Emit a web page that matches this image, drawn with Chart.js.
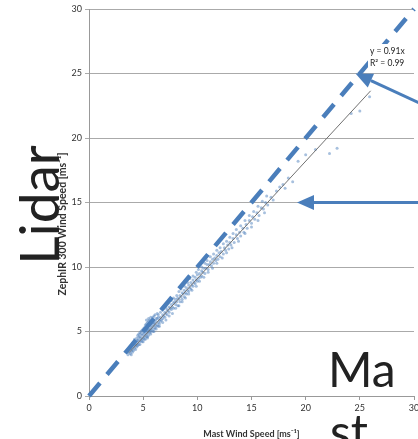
<!DOCTYPE html>
<html>
<head>
<meta charset="utf-8">
<script src="https://cdn.jsdelivr.net/npm/chart.js@4"></script>
<style>
html,body{margin:0;padding:0;background:#fff;overflow:hidden;}
canvas{display:block;}
</style>
</head>
<body>
<canvas id="c" width="418" height="439"></canvas>
<script>
// ---- data: [mast speed, lidar speed] ----
const lowSamples = [[3.5,3.4],[3.6,3.2],[3.6,3.6],[3.7,3.4],[3.8,3.7],[3.8,3.3],[3.9,3.5],[3.9,3.9],[4.0,3.6],[4.0,4.1],[4.0,3.4],[4.1,3.8],[4.1,4.2],[4.2,3.7],[4.2,4.0],[4.2,4.4],[4.3,3.9],[4.3,4.2],[4.3,3.6],[4.4,4.5],[4.4,4.0],[4.4,3.8],[4.5,4.3],[4.5,4.1],[4.5,4.7],[4.6,4.0],[4.6,4.4],[4.6,4.8],[4.7,4.2],[4.7,4.6],[4.7,4.9],[4.8,4.3],[4.8,4.5],[4.8,5.0],[4.9,4.4],[4.9,4.7],[4.9,5.1],[5.0,4.5],[5.0,4.8],[5.0,5.2],[5.0,4.2],
[5.1,4.6],[5.1,4.9],[5.1,5.3],[5.2,4.4],[5.2,4.7],[5.2,5.0],[5.2,5.5],[5.3,4.8],[5.3,5.1],[5.3,5.6],[5.4,4.6],[5.4,4.9],[5.4,5.3],[5.4,5.7],[5.5,5.0],[5.5,5.2],[5.5,4.7],[5.5,5.8],[5.6,5.1],[5.6,5.4],[5.6,4.9],[5.6,5.9],[5.7,5.2],[5.7,5.5],[5.7,5.0],[5.8,5.3],[5.8,5.6],[5.8,5.1],[5.9,5.4],[5.9,5.7],[5.9,5.0],[6.0,5.5],[6.0,5.2],[6.0,5.9],[6.0,6.2],[6.1,5.3],[6.1,5.6],[6.2,5.4],[6.2,5.8],[6.3,5.5],[6.3,6.0],[6.3,6.4],[6.4,5.7],[6.4,5.4],[6.5,5.9],[6.5,5.6],
[4.4,4.3],[4.6,4.6],[4.8,4.8],[5.0,5.0],[5.1,5.1],[5.3,5.3],[5.4,5.1],[5.6,5.6],[5.8,5.8],[6.0,5.7],[6.2,6.0],[6.4,6.1],[4.9,4.2],[5.1,4.4],[5.3,4.6],[4.5,3.9],[4.7,4.0],[4.1,3.5],[3.9,3.2],
[5.3,5.9],[5.5,6.0],[5.7,6.1],[5.9,6.1],[6.1,6.3],[6.4,6.3],[5.4,4.5],[5.7,4.8],[6.0,5.0],[6.2,5.2],[6.5,5.4]];
const midSamples = [[6.6,6.1],[6.6,5.8],[6.7,5.9],[6.8,6.3],[6.8,6.0],[6.9,6.2],[7.0,6.5],[7.0,6.1],[7.1,6.4],[7.2,6.7],[7.2,6.3],[7.3,6.6],[7.4,6.9],[7.4,6.5],[7.5,6.8],[7.6,7.1],[7.6,6.7],[7.7,6.9],[7.8,7.2],[7.8,6.8],[7.9,7.3],[8.0,7.1],[8.0,7.5],[8.1,7.3],[8.2,7.6],[8.2,7.0],[8.3,7.5],[8.4,7.8],[8.4,7.3],[8.5,7.7],[8.6,8.0],[8.6,7.5],[8.7,7.9],[8.8,8.2],[8.8,7.7],[8.9,8.0],
[9.0,8.4],[9.0,7.9],[9.1,8.2],[9.2,8.6],[9.2,8.1],[9.3,8.4],[9.4,8.8],[9.4,8.3],[9.5,8.6],[9.6,9.0],[9.6,8.5],[9.7,8.8],[9.8,9.2],[9.8,8.7],[9.9,9.0],[10.0,9.4],[10.0,8.9],[10.1,9.1],[10.2,9.5],[10.3,9.2],[10.4,9.7],[10.4,9.3],[10.5,9.6],[10.6,9.9],[10.7,9.5],[10.8,9.9],[10.9,10.2],[11.0,9.8],[11.1,10.2],[11.2,10.4],[11.3,10.1],[11.4,10.6],[11.5,10.3],[11.6,10.7],[11.7,10.5],[11.8,10.9],[11.9,10.6],[12.0,11.1],[12.1,10.8],[12.2,11.2],[12.4,11.0],[12.5,11.5],[12.6,11.3],[12.8,11.7],[12.9,11.4],[13.0,11.9],
[6.6,6.5],[6.9,6.8],[7.1,6.9],[7.3,7.2],[7.6,7.4],[7.8,7.6],[8.1,7.8],[8.3,8.1],[8.5,8.3],[8.8,8.5],[9.1,8.8],[9.3,9.1],[9.6,9.3],[9.9,9.6],[10.1,9.8],[10.4,10.0],[10.7,10.3],[10.9,10.5],[11.2,10.8],[11.5,11.0],[11.8,11.3],[12.1,11.5],[12.4,11.8],[12.7,12.0],
[6.8,5.7],[7.1,5.9],[7.4,6.2],[7.7,6.4],[8.0,6.8],[8.3,7.0],[8.6,7.3],[8.9,7.6],[9.2,7.9],[9.5,8.2],[9.9,8.5],[10.2,8.9],[10.6,9.2],[11.0,9.6],[11.4,9.9],[11.8,10.3],[12.3,10.7],[12.7,11.1]];
const highSamples = [[13.1,11.7],[13.3,12.2],[13.4,11.9],[13.6,12.5],[13.7,12.2],[13.9,12.7],[14.0,12.4],[14.2,13.0],[14.3,12.7],[14.5,13.3],[14.6,13.0],[14.8,13.6],[15.0,13.4],[15.1,13.9],[15.3,13.7],[15.5,14.2],[15.7,14.0],[15.9,14.6],[16.1,14.5],[16.3,15.0],[16.5,14.8],[16.8,15.4],[17.0,15.2],
[13.0,12.3],[13.3,12.6],[13.6,12.9],[14.0,13.2],[14.4,13.6],[14.8,14.0],[15.2,14.3],[15.6,14.7],[16.0,15.1],[16.4,15.5],[13.2,11.5],[13.8,12.0],[14.4,12.6],[15.0,13.1],[15.6,13.6],[16.2,14.2],
[17.3,15.9],[17.6,16.2],[17.9,16.4],[18.1,16.1],[18.4,16.9],[18.8,16.6],[19.3,18.2],[20.0,18.7],[20.9,19.1],[22.2,18.8],[22.9,19.2],[24.2,21.9],[25.0,22.1],[25.9,23.2]];
const trendSlope = 0.91;          // y = 0.91x
const trendRange = [3.7, 26];      // x extent of the fitted line
const oneToOne = [0, 30];          // y = x reference line
const xTicks = [0,5,10,15,20,25,30];
const yTicks = [0,5,10,15,20,25,30];
const fitLabels = ['y = 0.91x', 'R\u00B2 = 0.99'];
const yTitle = 'ZephIR 300 Wind Speed [ms\u207B\u00B9]';
const xTitle = 'Mast Wind Speed [ms\u207B\u00B9]';
const bigY = 'Lidar';
const bigX = ['Ma', 'st'];
// arrows in data coordinates: [fromX, fromY, toX, toY]
const arrowA = [30, 22.9, 24.6, 25.0];
const arrowB = [30, 15.0, 19.2, 15.0];

const scatterPts = lowSamples.concat(midSamples, highSamples).map(p=>({x:p[0], y:p[1]}));
const trendPts = trendRange.map(x=>({x:x, y:trendSlope*x}));
const refPts = oneToOne.map(v=>({x:v, y:v}));

const BLUE = '#4A7EBB';
const FONT = 'Lato, "Liberation Sans", sans-serif';

const overlay = {
  id:'overlay',
  afterDatasetsDraw(chart){
    const ctx = chart.ctx, xs = chart.scales.x, ys = chart.scales.y;
    ctx.save();
    function arrow(a){
      const x1=xs.getPixelForValue(a[0]), y1=ys.getPixelForValue(a[1]);
      const x2=xs.getPixelForValue(a[2]), y2=ys.getPixelForValue(a[3]);
      const ang=Math.atan2(y2-y1,x2-x1), L=17, W=7.5;
      const bx=x2-L*Math.cos(ang), by=y2-L*Math.sin(ang);
      ctx.strokeStyle=BLUE; ctx.fillStyle=BLUE; ctx.lineWidth=3;
      ctx.beginPath(); ctx.moveTo(x1+10,y1+10*Math.tan(ang)); ctx.lineTo(bx,by); ctx.stroke();
      ctx.beginPath();
      ctx.moveTo(x2,y2);
      ctx.lineTo(bx+W*Math.sin(ang), by-W*Math.cos(ang));
      ctx.lineTo(bx-W*Math.sin(ang), by+W*Math.cos(ang));
      ctx.closePath(); ctx.fill();
    }
    arrow(arrowA); arrow(arrowB);
    ctx.font='8.5px '+FONT; ctx.textAlign='left'; ctx.textBaseline='middle';
    ctx.fillStyle='#fff'; ctx.fillRect(368, 44, 48, 26);
    ctx.fillStyle='#222';
    ctx.fillText(fitLabels[0], 370, 51);
    ctx.fillText(fitLabels[1], 370, 63);
    ctx.save();
    ctx.translate(63, 224); ctx.rotate(-Math.PI/2);
    ctx.font='bold 10.5px '+FONT; ctx.textAlign='center'; ctx.textBaseline='middle'; ctx.fillStyle='#333';
    ctx.fillText(yTitle, 0, 0);
    ctx.restore();
    ctx.save();
    ctx.translate(59, 205); ctx.rotate(-Math.PI/2);
    ctx.font='55px '+FONT; ctx.textAlign='center'; ctx.textBaseline='alphabetic'; ctx.fillStyle='#222';
    ctx.fillText(bigY, 0, 0);
    ctx.restore();
    ctx.font='48px '+FONT; ctx.textAlign='left'; ctx.textBaseline='alphabetic'; ctx.fillStyle='#222';
    ctx.fillText(bigX[0], 328, 387);
    ctx.fillText(bigX[1], 330, 449);
    ctx.restore();
  }
};

new Chart(document.getElementById('c'), {
  type:'scatter',
  data:{datasets:[
    {label:'1:1', type:'line', data:refPts, borderColor:BLUE, borderWidth:4.5, borderDash:[17,11], pointRadius:0, fill:false, clip:false, order:0},
    {label:'Trend', type:'line', data:trendPts, borderColor:'#707070', borderWidth:1, pointRadius:0, fill:false, order:1},
    {label:'ZephIR vs Mast', data:scatterPts, backgroundColor:'rgba(79,129,189,0.5)', borderWidth:0, pointRadius:1.5, order:2}
  ]},
  options:{
    responsive:false, animation:false, devicePixelRatio:1,
    layout:{padding:{top:9,left:0,right:0,bottom:0}},
    plugins:{legend:{display:false}, tooltip:{enabled:false}},
    scales:{
      x:{type:'linear', min:0, max:30,
        afterBuildTicks(s){ s.ticks = xTicks.map(v=>({value:v})); },
        ticks:{font:{family:FONT,size:9}, color:'#333', padding:3, maxRotation:0, autoSkip:false},
        grid:{drawOnChartArea:false, drawTicks:true, tickLength:4, color:'#999'},
        border:{color:'#999', width:1},
        title:{display:true, text:xTitle, font:{family:FONT,size:9,weight:'bold'}, color:'#333', padding:{top:4,bottom:0}},
        afterFit(s){ s.height=43; s.paddingLeft=0; s.paddingRight=0; }
      },
      y:{type:'linear', min:0, max:30,
        afterBuildTicks(s){ s.ticks = yTicks.map(v=>({value:v})); },
        ticks:{font:{family:FONT,size:9}, color:'#333', padding:3, autoSkip:false},
        grid:{color:'#aaa', tickLength:4},
        border:{color:'#999', width:1},
        afterFit(s){ s.width=89; s.paddingTop=0; s.paddingBottom=0; }
      }
    }
  },
  plugins:[overlay]
});
</script>
</body>
</html>
